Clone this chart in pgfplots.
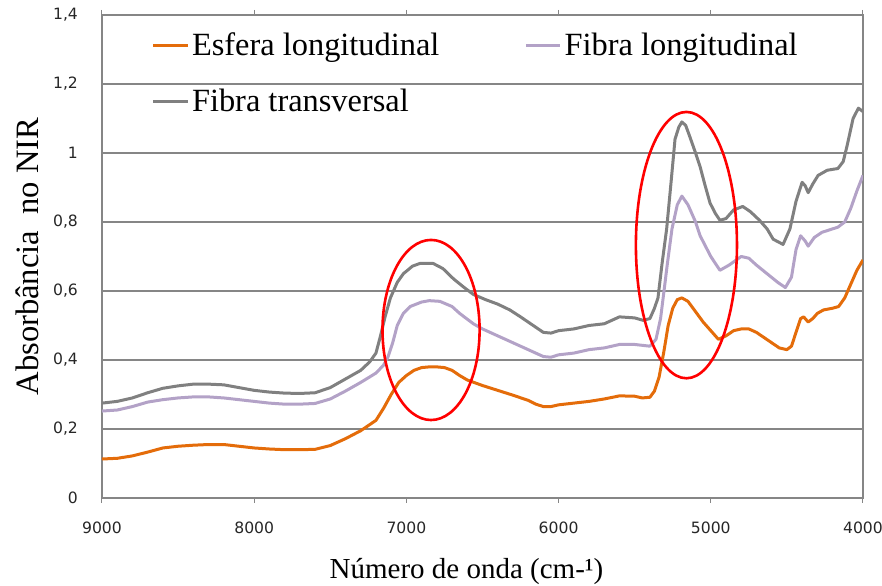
\documentclass[border=0pt]{standalone}
\usepackage{fontspec}
\setmainfont{Liberation Serif}
\newfontfamily\tickfont{DejaVu Sans}
\usepackage{pgfplots}
\pgfplotsset{compat=1.18}
\definecolor{cOrange}{RGB}{228,108,10}
\definecolor{cPurple}{RGB}{179,162,199}
\definecolor{cGray}{RGB}{128,128,128}
\definecolor{cGrid}{RGB}{134,134,134}

\pgfplotstableread{
w v
9000 0.113
8900 0.115
8800 0.122
8700 0.133
8600 0.145
8500 0.150
8400 0.153
8300 0.155
8200 0.155
8100 0.150
8000 0.145
7900 0.142
7800 0.140
7700 0.140
7600 0.141
7500 0.152
7400 0.172
7300 0.195
7200 0.225
7150 0.260
7100 0.300
7050 0.335
7000 0.355
6950 0.370
6900 0.378
6850 0.380
6800 0.380
6750 0.378
6700 0.370
6650 0.355
6600 0.342
6500 0.326
6400 0.312
6300 0.298
6200 0.283
6150 0.272
6100 0.265
6050 0.265
6000 0.270
5900 0.275
5800 0.280
5700 0.287
5600 0.296
5500 0.295
5450 0.290
5400 0.292
5370 0.310
5340 0.350
5310 0.420
5280 0.500
5250 0.550
5220 0.575
5190 0.580
5150 0.570
5100 0.540
5050 0.510
5000 0.485
4950 0.460
4900 0.470
4850 0.485
4800 0.490
4750 0.490
4700 0.480
4650 0.465
4600 0.450
4550 0.435
4500 0.430
4470 0.440
4440 0.480
4410 0.520
4390 0.525
4360 0.510
4330 0.520
4300 0.535
4260 0.545
4200 0.550
4160 0.555
4120 0.580
4080 0.620
4040 0.660
4000 0.690
}\esfera

\pgfplotstableread{
w v
9000 0.252
8900 0.255
8800 0.265
8700 0.278
8600 0.285
8500 0.290
8400 0.293
8300 0.293
8200 0.290
8100 0.285
8000 0.280
7900 0.275
7800 0.272
7700 0.272
7600 0.274
7500 0.287
7400 0.310
7300 0.335
7200 0.362
7150 0.385
7120 0.410
7090 0.450
7060 0.500
7020 0.535
6975 0.555
6900 0.568
6850 0.572
6780 0.570
6700 0.555
6650 0.535
6560 0.505
6500 0.490
6400 0.470
6300 0.450
6250 0.440
6150 0.420
6100 0.410
6050 0.408
6000 0.415
5900 0.420
5800 0.430
5700 0.435
5600 0.445
5500 0.445
5400 0.440
5360 0.460
5330 0.520
5313 0.580
5285 0.680
5255 0.780
5220 0.850
5190 0.875
5150 0.850
5100 0.800
5070 0.760
5000 0.700
4940 0.660
4880 0.675
4800 0.700
4750 0.695
4700 0.675
4630 0.650
4560 0.625
4510 0.610
4470 0.640
4440 0.720
4410 0.760
4380 0.745
4360 0.730
4320 0.755
4270 0.770
4200 0.780
4165 0.785
4120 0.800
4080 0.840
4040 0.890
4000 0.935
}\fibralong

\pgfplotstableread{
w v
9000 0.275
8900 0.280
8800 0.290
8700 0.305
8600 0.318
8500 0.325
8400 0.330
8300 0.330
8200 0.328
8100 0.320
8000 0.312
7900 0.307
7800 0.304
7700 0.303
7600 0.305
7500 0.320
7400 0.345
7300 0.370
7240 0.395
7200 0.420
7170 0.470
7140 0.525
7105 0.580
7060 0.625
7020 0.650
6960 0.672
6910 0.680
6825 0.680
6760 0.665
6690 0.635
6620 0.610
6560 0.590
6480 0.575
6400 0.562
6320 0.545
6250 0.525
6150 0.495
6100 0.480
6050 0.478
6000 0.485
5900 0.490
5800 0.500
5700 0.505
5600 0.525
5500 0.522
5445 0.515
5400 0.520
5370 0.550
5347 0.580
5320 0.680
5290 0.780
5260 0.920
5235 1.040
5210 1.075
5190 1.090
5165 1.080
5140 1.050
5100 1.000
5070 0.960
5040 0.910
5005 0.855
4970 0.825
4940 0.805
4900 0.810
4850 0.835
4790 0.845
4740 0.830
4680 0.805
4630 0.780
4590 0.750
4525 0.735
4480 0.780
4440 0.860
4400 0.915
4380 0.905
4360 0.885
4330 0.910
4295 0.935
4235 0.950
4165 0.955
4130 0.975
4105 1.020
4065 1.100
4030 1.130
4000 1.120
}\fibratrans

\begin{document}
\begin{tikzpicture}
\begin{axis}[
  scale only axis,
  width=380.5pt, height=241.5pt,
  xmin=4000, xmax=9000, x dir=reverse,
  ymin=0, ymax=1.4,
  xtick={4000,5000,6000,7000,8000,9000},
  xticklabels={4000,5000,6000,7000,8000,9000},
  ytick={0,0.2,0.4,0.6,0.8,1,1.2,1.4},
  yticklabels={0,{0,2},{0,4},{0,6},{0,8},1,{1,2},{1,4}},
  ticklabel style={font=\tickfont\fontsize{7.8}{9}\selectfont, text=black!85},
  xticklabel style={yshift=-6pt},
  yticklabel style={xshift=-6pt},
  tick align=outside,
  major tick length=2.5pt,
  xtick style={cGrid, line width=0.5pt},
  ytick style={draw=none},
  ymajorgrids,
  grid style={cGrid, line width=0.6pt},
  axis line style={cGrid, line width=0.6pt},
  xlabel={Número de onda (cm-¹)},
  ylabel={Absorbância\ \ no NIR},
  xlabel style={at={(axis description cs:0.479,-0.153)}, anchor=center, font=\fontsize{14.5}{17}\selectfont},
  ylabel style={at={(axis description cs:-0.0986,0.5)}, anchor=center, rotate=0, font=\fontsize{16.3}{19}\selectfont},
  legend columns=2,
  legend style={draw=none, fill=none, inner sep=0pt,
    at={(axis description cs:0.065,0.972)}, anchor=north west,
    font=\fontsize{16.2}{19}\selectfont,
    /tikz/every even column/.append style={column sep=41pt},
    row sep=11pt,
    nodes={inner xsep=1.5pt}},
  legend cell align=left,
]
\addplot[cOrange, line width=1.5pt, line join=round] table[x=w,y=v] {\esfera};
\addlegendentry{Esfera longitudinal}
\addplot[cPurple, line width=1.5pt, line join=round] table[x=w,y=v] {\fibralong};
\addlegendentry{Fibra longitudinal}
\addplot[cGray, line width=1.5pt, line join=round] table[x=w,y=v] {\fibratrans};
\addlegendentry{Fibra transversal}
\draw[red, line width=1.3pt] (axis cs:6838,0.487) ellipse [x radius=319, y radius=0.261];
\draw[red, line width=1.3pt] (axis cs:5160,0.733) ellipse [x radius=332, y radius=0.386];
\end{axis}
\pgfresetboundingbox
\path ([shift={(-51pt,-44pt)}]current axis.south west) rectangle ([shift={(9.5pt,7.5pt)}]current axis.north east);
\end{tikzpicture}
\end{document}
